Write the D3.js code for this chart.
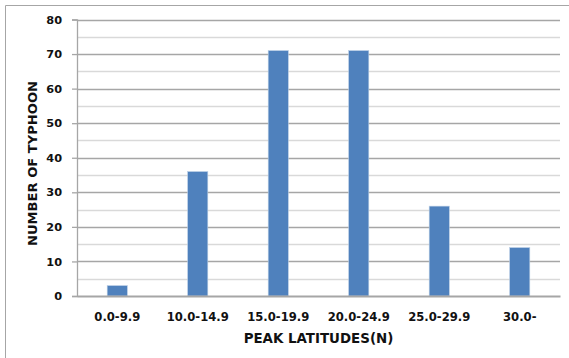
<!DOCTYPE html>
<html>
<head>
<meta charset="utf-8">
<script src="https://cdn.jsdelivr.net/npm/d3@7"></script>
<style>
  html, body { margin: 0; padding: 0; background: #fff; }
  svg { display: block; }
  text { font-family: "DejaVu Sans", "Liberation Sans", sans-serif; font-weight: bold; fill: #111; }
</style>
</head>
<body>
<svg id="chart" width="569" height="358"></svg>
<script>
// Typhoon counts by latitude band of peak intensity
const categories = ["0.0-9.9", "10.0-14.9", "15.0-19.9", "20.0-24.9", "25.0-29.9", "30.0-"];
const counts = [3, 36, 71, 71, 26, 14];
const majorTicks = [0, 10, 20, 30, 40, 50, 60, 70, 80];
const minorTicks = [5, 15, 25, 35, 45, 55, 65, 75];
const xTitle = "PEAK LATITUDES(N)";
const yTitle = "NUMBER OF TYPHOON";

const FONT = "'DejaVu Sans', 'Liberation Sans', sans-serif";
const svg = d3.select("#chart");
const W = 569, H = 358;
const plot = { left: 77, right: 560, top: 19.5, bottom: 296 };

// frame around the chart area
svg.append("path")
  .attr("d", `M5.5,${H} V5.5 H${W}`)
  .attr("fill", "none")
  .attr("stroke", "#a6a6a6")
  .attr("stroke-width", 1);

const x = d3.scaleBand()
  .domain(categories)
  .range([plot.left, plot.right])
  .paddingInner(0.75)
  .paddingOuter(0.375);

const y = d3.scaleLinear()
  .domain([0, 80])
  .range([plot.bottom, plot.top]);

// minor gridlines
svg.append("g")
  .selectAll("line")
  .data(minorTicks)
  .join("line")
  .attr("x1", plot.left).attr("x2", plot.right)
  .attr("y1", d => Math.round(y(d)) + 0.5).attr("y2", d => Math.round(y(d)) + 0.5)
  .attr("stroke", "#d9d9d9")
  .attr("stroke-width", 1.3);

// major gridlines
svg.append("g")
  .selectAll("line")
  .data(majorTicks.filter(d => d > 0))
  .join("line")
  .attr("x1", plot.left).attr("x2", plot.right)
  .attr("y1", d => Math.round(y(d)) + 0.5).attr("y2", d => Math.round(y(d)) + 0.5)
  .attr("stroke", "#a6a6a6")
  .attr("stroke-width", 1.3);

// bars
svg.append("g")
  .selectAll("rect")
  .data(categories.map((c, i) => ({ c, v: counts[i] })))
  .join("rect")
  .attr("x", d => x(d.c))
  .attr("width", x.bandwidth())
  .attr("y", d => y(d.v))
  .attr("height", d => y(0) - y(d.v))
  .attr("fill", "#4f81bd")
  .attr("stroke", "#b9cde5")
  .attr("stroke-width", 0.6);

// y axis
const yAxis = d3.axisLeft(y)
  .tickValues(majorTicks)
  .tickSize(5)
  .tickPadding(10);
const gy = svg.append("g")
  .attr("transform", `translate(${plot.left},0)`)
  .call(yAxis);
gy.select(".domain").attr("stroke", "#a6a6a6").attr("stroke-width", 1.3);
gy.selectAll(".tick line").attr("stroke", "#a6a6a6").attr("stroke-width", 1.3);
gy.selectAll(".tick text")
  .attr("font-family", FONT)
  .attr("font-weight", "bold")
  .attr("font-size", 11.3)
  .attr("fill", "#111");

// x axis
const xAxis = d3.axisBottom(x).tickSize(0).tickPadding(16.5);
const gx = svg.append("g")
  .attr("transform", `translate(0,${plot.bottom})`)
  .call(xAxis);
gx.select(".domain").attr("stroke", "#a6a6a6").attr("stroke-width", 2);
gx.selectAll(".tick text")
  .attr("font-family", FONT)
  .attr("font-weight", "bold")
  .attr("font-size", 11.6)
  .attr("fill", "#111");

// axis titles
svg.append("text")
  .attr("x", (plot.left + plot.right) / 2)
  .attr("y", 343)
  .attr("text-anchor", "middle")
  .attr("font-size", 13.4)
  .text(xTitle);

svg.append("text")
  .attr("transform", `translate(36.5,163.5) rotate(-90)`)
  .attr("text-anchor", "middle")
  .attr("font-size", 13.1)
  .text(yTitle);
</script>
</body>
</html>
